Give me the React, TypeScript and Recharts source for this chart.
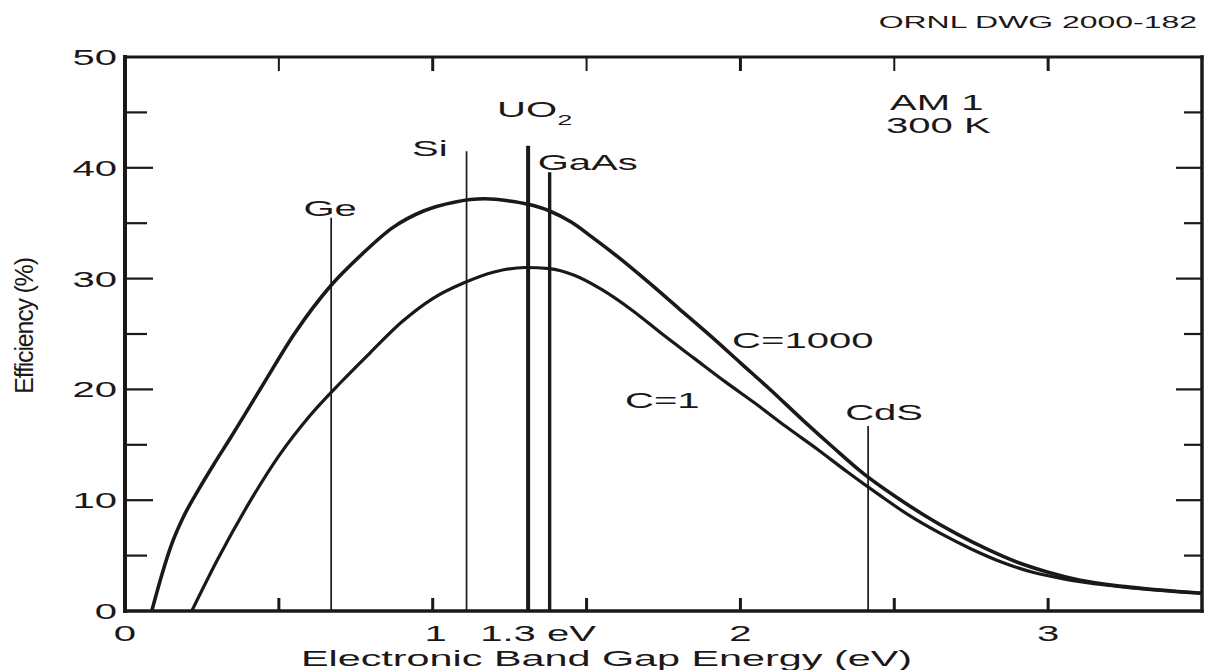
import React from "react";
import {
  LineChart,
  Line,
  XAxis,
  YAxis,
  ReferenceLine,
  ReferenceDot,
} from "recharts";

const INK = "#1d1818";
const FONT = '"Liberation Sans", Arial, Helvetica, sans-serif';
const STRETCH = 1.82;

// conversion efficiency (%) vs band gap (eV), concentration C=1000
const gapC1000 = [
  0.087, 0.12, 0.15, 0.19, 0.24, 0.29, 0.34, 0.45, 0.55, 0.67, 0.77, 0.87,
  0.97, 1.07, 1.17, 1.25, 1.31, 1.38, 1.45, 1.52, 1.6, 1.7, 1.8, 1.9, 2.0, 2.1,
  2.2, 2.3, 2.4, 2.5, 2.6, 2.7, 2.8, 2.9, 3.0, 3.1, 3.25, 3.5,
];
const effC1000 = [
  0, 3.3, 5.9, 8.5, 11.0, 13.3, 15.5, 20.5, 25.0, 29.4, 32.2, 34.6, 36.1, 36.9,
  37.2, 37.0, 36.7, 36.1, 35.1, 33.7, 32.0, 29.7, 27.3, 24.9, 22.4, 19.9, 17.3,
  14.8, 12.4, 10.4, 8.6, 7.0, 5.6, 4.4, 3.5, 2.8, 2.2, 1.6,
];

// same, one sun (C=1)
const gapC1 = [
  0.217, 0.3, 0.4, 0.5, 0.6, 0.7, 0.8, 0.9, 1.0, 1.1, 1.2, 1.3, 1.38, 1.46,
  1.55, 1.65, 1.75, 1.85, 1.95, 2.05, 2.15, 2.25, 2.35, 2.45, 2.55, 2.65, 2.75,
  2.85, 2.95, 3.05, 3.2, 3.5,
];
const effC1 = [
  0, 4.6, 9.6, 14.0, 17.6, 20.6, 23.4, 26.1, 28.2, 29.6, 30.6, 31.0, 30.9, 30.3,
  29.0, 27.1, 24.9, 22.8, 20.7, 18.7, 16.6, 14.6, 12.5, 10.5, 8.6, 7.0, 5.6,
  4.4, 3.5, 2.9, 2.3, 1.6,
];

// materials marked by vertical lines at their band gap
const materials = ["Ge", "Si", "UO2", "GaAs", "CdS"];
const materialGaps = [0.67, 1.11, 1.31, 1.38, 2.415];
const materialTops = [35.5, 41.5, 42.0, 39.6, 16.7];

const xTickValues = [0, 0.5, 1, 1.3, 1.5, 2, 2.5, 3];
const xLabelValues = [0, 1, 1.3, 2, 3];
const xLabelTexts = ["0", "1", "1.3 eV", "2", "3"];
const topTickValues = [0.5, 1, 1.5, 2, 2.5, 3];
const yTickValues = [0, 5, 10, 15, 20, 25, 30, 35, 40, 45, 50];
const yLabelValues = [0, 10, 20, 30, 40, 50];

const noteTexts = ["C=1000", "C=1", "AM 1", "300 K"];
const noteX = [1.973, 1.625, 2.486, 2.473];
const noteY = [23.7, 18.3, 45.2, 43.1];

const c1000 = gapC1000.map((gap, i) => ({ gap, eff: effC1000[i] }));
const c1 = gapC1.map((gap, i) => ({ gap, eff: effC1[i] }));

// per-material line weight and label placement relative to the line top
const materialStyle: Record<string, { w: number; dx: number; dy: number; anchor: string }> = {
  Ge: { w: 1.7, dx: -1, dy: -2, anchor: "middle" },
  Si: { w: 1.7, dx: -19, dy: 5, anchor: "end" },
  UO2: { w: 4, dx: -31, dy: -29, anchor: "start" },
  GaAs: { w: 3.4, dx: -12, dy: -2, anchor: "start" },
  CdS: { w: 1.7, dx: -23, dy: -6, anchor: "start" },
};

function Stretched({
  x,
  y,
  size = 22,
  sx = STRETCH,
  anchor = "middle",
  children,
}: any) {
  return (
    <text
      transform={`translate(${x} ${y}) scale(${sx} 1)`}
      fontSize={size}
      textAnchor={anchor}
      fontFamily={FONT}
      fill={INK}
    >
      {children}
    </text>
  );
}

const BottomTick = (props: any) => {
  const { x, y, payload } = props;
  const v = payload.value;
  const onHalf = v > 0 && Math.abs(v * 2 - Math.round(v * 2)) < 1e-9;
  const li = xLabelValues.indexOf(v);
  const shift = v === 1.3 ? 13 : v === 1 ? 3 : 0;
  return (
    <g>
      {onHalf && (
        <line x1={x} x2={x} y1={y} y2={y - 13} stroke={INK} strokeWidth={3} />
      )}
      {li >= 0 && (
        <Stretched x={x + shift} y={y + 30}>
          {xLabelTexts[li]}
        </Stretched>
      )}
    </g>
  );
};

const TopTick = (props: any) => {
  const { x, y, payload } = props;
  const major = Number.isInteger(payload.value);
  return (
    <line
      x1={x}
      x2={x}
      y1={y}
      y2={y + 14}
      stroke={INK}
      strokeWidth={major ? 3 : 2}
    />
  );
};

const LeftTick = (props: any) => {
  const { x, y, payload } = props;
  const v = payload.value;
  const major = v % 10 === 0;
  return (
    <g>
      {v > 0 && v < 50 && (
        <line x1={x} x2={x + (major ? 28 : 22)} y1={y} y2={y} stroke={INK} strokeWidth={2.2} />
      )}
      {yLabelValues.includes(v) && (
        <Stretched x={x - 8} y={y + 8} anchor="end">
          {String(v)}
        </Stretched>
      )}
    </g>
  );
};

const RightTick = (props: any) => {
  const { x, y, payload } = props;
  const v = payload.value;
  if (v <= 0 || v >= 50) return <g />;
  const major = v % 10 === 0;
  return (
    <line x1={x} x2={x - (major ? 26 : 18)} y1={y} y2={y} stroke={INK} strokeWidth={2.2} />
  );
};

const YTitle = ({ viewBox }: any) => {
  const cx = (viewBox?.x ?? 0) + 33;
  const cy = (viewBox?.y ?? 57) + (viewBox?.height ?? 554) / 2 - 8;
  return (
    <text
      transform={`translate(${cx} ${cy}) rotate(-90)`}
      textAnchor="middle"
      fontSize={25}
      letterSpacing={-1.2}
      fontFamily={FONT}
      fill={INK}
    >
      Efficiency (%)
    </text>
  );
};

const XTitle = ({ viewBox }: any) => {
  const cx = (viewBox?.x ?? 125) + (viewBox?.width ?? 1077) / 2 - 57;
  return (
    <Stretched x={cx} y={666} size={22} sx={1.88}>
      Electronic Band Gap Energy (eV)
    </Stretched>
  );
};

const MaterialTag = ({ viewBox, name }: any) => {
  const s = materialStyle[name];
  const x = viewBox.x + s.dx;
  const y = viewBox.y + s.dy;
  if (name === "UO2") {
    return (
      <text
        transform={`translate(${x} ${y}) scale(${STRETCH} 1)`}
        fontSize={22}
        textAnchor="start"
        fontFamily={FONT}
        fill={INK}
      >
        UO
        <tspan dy={8} fontSize={15}>
          2
        </tspan>
      </text>
    );
  }
  return (
    <Stretched x={x} y={y} anchor={s.anchor}>
      {name}
    </Stretched>
  );
};

const NoteTag = ({ viewBox, text }: any) => (
  <Stretched x={viewBox.x} y={viewBox.y} anchor="start">
    {text}
  </Stretched>
);

export default function App() {
  return (
    <div style={{ position: "absolute", left: 0, top: 0, background: "#fff" }}>
      <LineChart
        width={1205}
        height={670}
        margin={{ top: 27, right: 0, bottom: 0, left: 0 }}
      >
        <XAxis
          type="number"
          dataKey="gap"
          domain={[0, 3.5]}
          allowDataOverflow
          ticks={xTickValues}
          interval={0}
          height={59}
          tickSize={0}
          tickMargin={0}
          tickLine={false}
          axisLine={{ stroke: INK, strokeWidth: 3.5, strokeLinecap: "square" }}
          tick={<BottomTick />}
          label={<XTitle />}
        />
        <XAxis
          xAxisId="top"
          orientation="top"
          type="number"
          dataKey="gap"
          domain={[0, 3.5]}
          allowDataOverflow
          ticks={topTickValues}
          interval={0}
          height={30}
          tickSize={0}
          tickMargin={0}
          tickLine={false}
          axisLine={{ stroke: INK, strokeWidth: 3, strokeLinecap: "square" }}
          tick={<TopTick />}
        />
        <YAxis
          type="number"
          domain={[0, 50]}
          allowDataOverflow
          ticks={yTickValues}
          interval={0}
          width={125}
          tickSize={0}
          tickMargin={0}
          tickLine={false}
          axisLine={{ stroke: INK, strokeWidth: 4, strokeLinecap: "square" }}
          tick={<LeftTick />}
          label={<YTitle />}
        />
        <YAxis
          yAxisId="right"
          orientation="right"
          type="number"
          domain={[0, 50]}
          allowDataOverflow
          ticks={yTickValues}
          interval={0}
          width={3}
          tickSize={0}
          tickMargin={0}
          tickLine={false}
          axisLine={{ stroke: INK, strokeWidth: 3.5, strokeLinecap: "square" }}
          tick={<RightTick />}
        />

        {materials.map((name, i) => (
          <ReferenceLine
            key={name}
            segment={[
              { x: materialGaps[i], y: 0 },
              { x: materialGaps[i], y: materialTops[i] },
            ]}
            stroke={INK}
            strokeWidth={materialStyle[name].w}
            ifOverflow="visible"
            label={<MaterialTag name={name} />}
          />
        ))}

        <Line
          data={c1000}
          dataKey="eff"
          type="monotone"
          dot={false}
          stroke={INK}
          strokeWidth={3.6}
          strokeLinejoin="round"
          isAnimationActive={false}
        />
        <Line
          data={c1}
          dataKey="eff"
          type="monotone"
          dot={false}
          stroke={INK}
          strokeWidth={3.2}
          strokeLinejoin="round"
          isAnimationActive={false}
        />

        {noteTexts.map((t, i) => (
          <ReferenceDot
            key={t}
            x={noteX[i]}
            y={noteY[i]}
            r={0}
            stroke="none"
            fill="none"
            ifOverflow="visible"
            label={<NoteTag text={t} />}
          />
        ))}

        <text
          transform="translate(1197 28) scale(1.88 1)"
          fontSize={17}
          textAnchor="end"
          fontFamily={FONT}
          fill={INK}
        >
          ORNL DWG 2000-182
        </text>
      </LineChart>
    </div>
  );
}
